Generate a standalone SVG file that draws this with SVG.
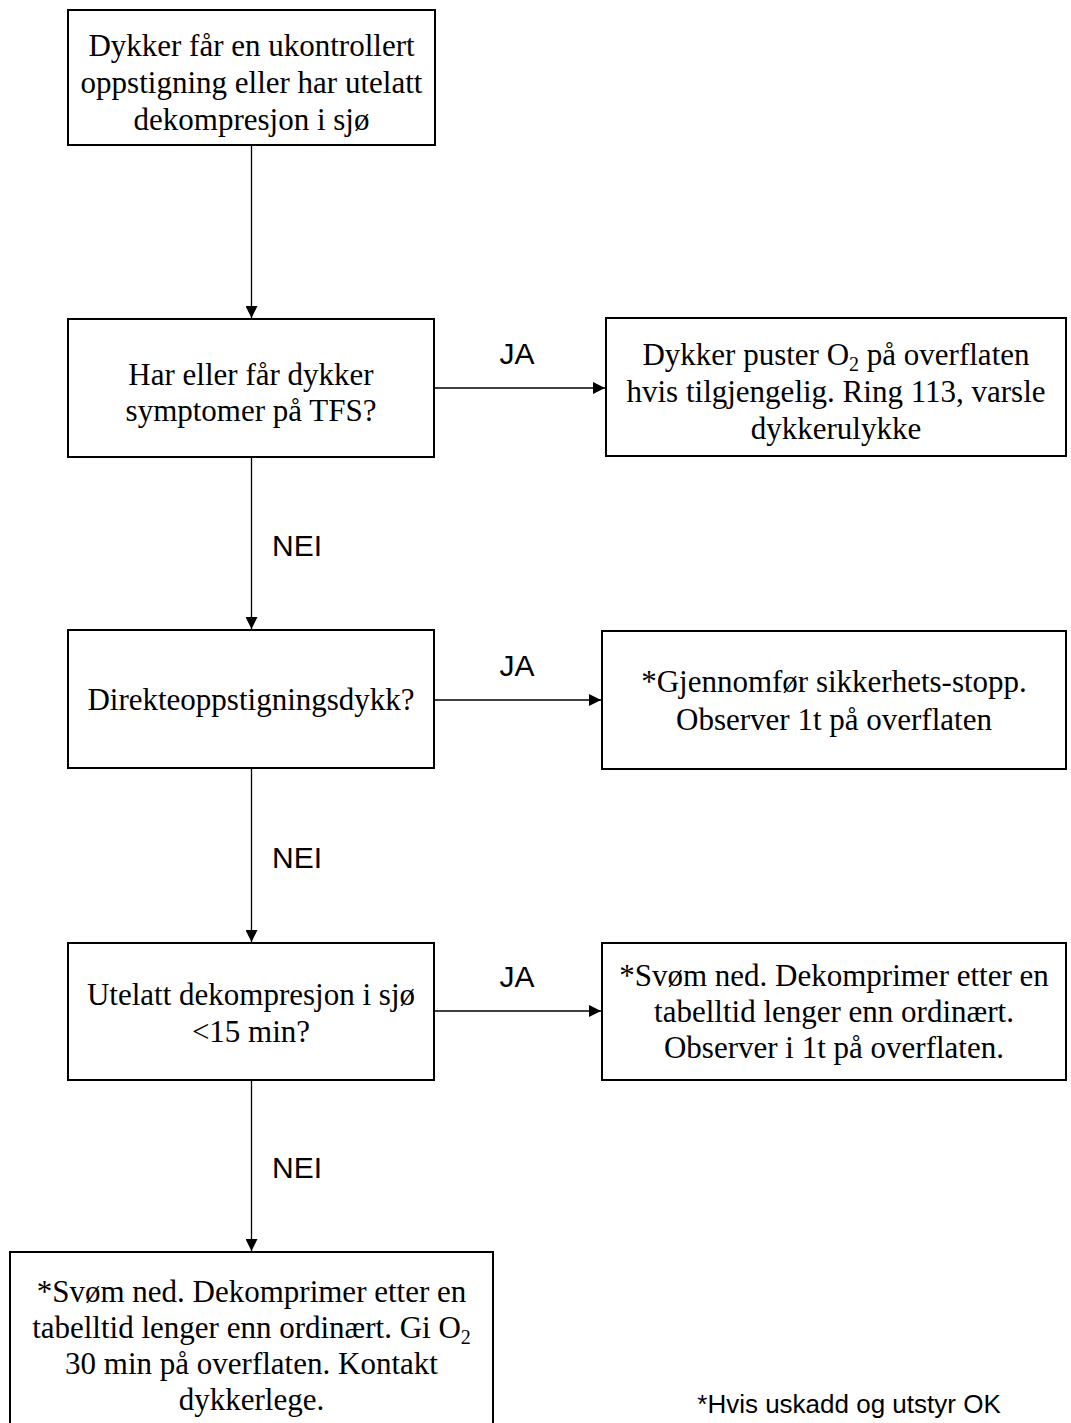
<svg xmlns="http://www.w3.org/2000/svg" width="1071" height="1423" viewBox="0 0 1071 1423">
<defs>
<style>
.box{fill:#fff;stroke:#000;stroke-width:2}
.t{font-family:"Liberation Serif","Times New Roman",serif;font-size:31px;fill:#000;text-anchor:middle}
.lbl{font-family:"Liberation Sans",Arial,sans-serif;font-size:30px;fill:#000;text-anchor:middle}
.note{font-family:"Liberation Sans",Arial,sans-serif;font-size:26px;fill:#000;text-anchor:middle}
.c{stroke:#000;stroke-width:1.3;fill:none;marker-end:url(#ah)}
.sub{font-size:20px}
</style>
<marker id="ah" viewBox="0 0 12 12" refX="12" refY="6" markerWidth="12" markerHeight="12" markerUnits="userSpaceOnUse" orient="auto">
<path d="M0,0 L12,6 L0,12 Z" fill="#000"/>
</marker>
</defs>
<rect width="1071" height="1423" fill="#fff"/>

<g id="connectors">
<line class="c" x1="251.5" y1="145" x2="251.5" y2="318"/>
<line class="c" x1="435" y1="388" x2="605" y2="388"/>
<line class="c" x1="251.5" y1="457" x2="251.5" y2="629"/>
<line class="c" x1="435" y1="700" x2="601" y2="700"/>
<line class="c" x1="251.5" y1="768" x2="251.5" y2="942"/>
<line class="c" x1="435" y1="1011" x2="601" y2="1011"/>
<line class="c" x1="251.5" y1="1080" x2="251.5" y2="1251"/>
<text class="lbl" x="517" y="364">JA</text>
<text class="lbl" x="517" y="676">JA</text>
<text class="lbl" x="517" y="987">JA</text>
<text class="lbl" x="297" y="556">NEI</text>
<text class="lbl" x="297" y="868">NEI</text>
<text class="lbl" x="297" y="1178">NEI</text>
</g>

<g id="start">
<rect class="box" x="68" y="10" width="367" height="135"/>
<text class="t" x="251.5" y="56">Dykker får en ukontrollert</text>
<text class="t" x="251.5" y="93">oppstigning eller har utelatt</text>
<text class="t" x="251.5" y="130">dekompresjon i sjø</text>
</g>

<g id="q1">
<rect class="box" x="68" y="319" width="366" height="138"/>
<text class="t" x="251" y="385">Har eller får dykker</text>
<text class="t" x="251" y="421">symptomer på TFS?</text>
</g>

<g id="a1">
<rect class="box" x="606" y="318" width="460" height="138"/>
<text class="t" x="836" y="365">Dykker puster O<tspan class="sub" dy="6">2</tspan><tspan dy="-6"> på overflaten</tspan></text>
<text class="t" x="836" y="402">hvis tilgjengelig. Ring 113, varsle</text>
<text class="t" x="836" y="439">dykkerulykke</text>
</g>

<g id="q2">
<rect class="box" x="68" y="630" width="366" height="138"/>
<text class="t" x="251" y="710">Direkteoppstigningsdykk?</text>
</g>

<g id="a2">
<rect class="box" x="602" y="631" width="464" height="138"/>
<text class="t" x="834" y="692">*Gjennomfør sikkerhets-stopp.</text>
<text class="t" x="834" y="730">Observer 1t på overflaten</text>
</g>

<g id="q3">
<rect class="box" x="68" y="943" width="366" height="137"/>
<text class="t" x="251" y="1005">Utelatt dekompresjon i sjø</text>
<text class="t" x="251" y="1042">&lt;15 min?</text>
</g>

<g id="a3">
<rect class="box" x="602" y="943" width="464" height="137"/>
<text class="t" x="834" y="986">*Svøm ned. Dekomprimer etter en</text>
<text class="t" x="834" y="1022">tabelltid lenger enn ordinært.</text>
<text class="t" x="834" y="1058">Observer i 1t på overflaten.</text>
</g>

<g id="end">
<rect class="box" x="10" y="1252" width="483" height="190"/>
<text class="t" x="251.5" y="1302">*Svøm ned. Dekomprimer etter en</text>
<text class="t" x="251.5" y="1338">tabelltid lenger enn ordinært. Gi O<tspan class="sub" dy="6">2</tspan></text>
<text class="t" x="251.5" y="1374">30 min på overflaten. Kontakt</text>
<text class="t" x="251.5" y="1410">dykkerlege.</text>
</g>

<g id="footnote">
<text class="note" x="849" y="1413">*Hvis uskadd og utstyr OK</text>
</g>
</svg>
